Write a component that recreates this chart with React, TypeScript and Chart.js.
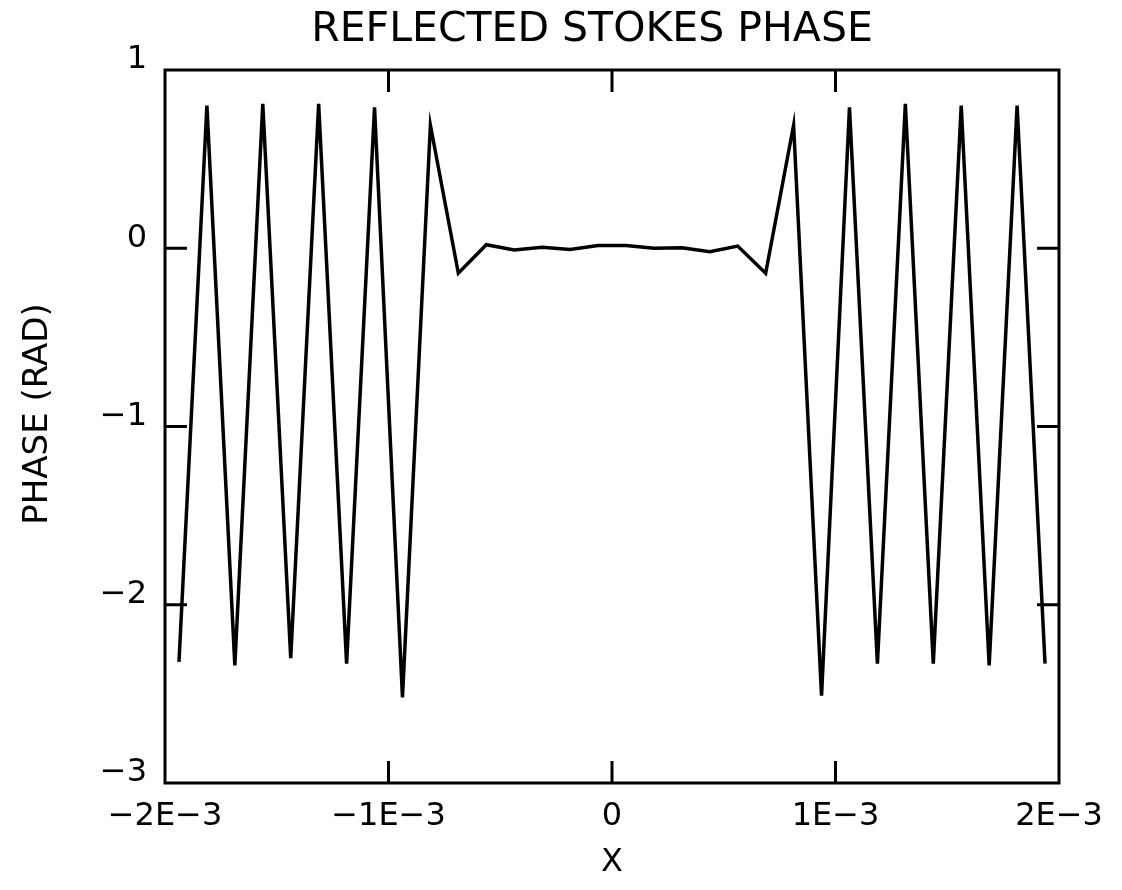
import React, { useEffect, useRef } from "react";
import { Chart, registerables } from "chart.js";

Chart.register(...registerables);

// ---- data (x in metres-like units, phase in rad) ----
const xValues = [
  -1.9375e-3, -1.8125e-3, -1.6875e-3, -1.5625e-3, -1.4375e-3, -1.3125e-3, -1.1875e-3, -1.0625e-3,
  -0.9375e-3, -0.8125e-3, -0.6875e-3, -0.5625e-3, -0.4375e-3, -0.3125e-3, -0.1875e-3, -0.0625e-3,
  0.0625e-3, 0.1875e-3, 0.3125e-3, 0.4375e-3, 0.5625e-3, 0.6875e-3, 0.8125e-3, 0.9375e-3,
  1.0625e-3, 1.1875e-3, 1.3125e-3, 1.4375e-3, 1.5625e-3, 1.6875e-3, 1.8125e-3, 1.9375e-3,
];
const phaseValues = [
  -2.32, 0.8, -2.34, 0.81, -2.3, 0.81, -2.33, 0.79,
  -2.52, 0.69, -0.14, 0.02, -0.01, 0.005, -0.007, 0.015,
  0.015, 0.0, 0.003, -0.02, 0.012, -0.14, 0.69, -2.51,
  0.79, -2.33, 0.81, -2.33, 0.8, -2.34, 0.8, -2.33,
];
const xTickValues = [-2e-3, -1e-3, 0, 1e-3, 2e-3];
const xTickLabels = ["\u22122E\u22123", "\u22121E\u22123", "0", "1E\u22123", "2E\u22123"];
const yTickValues = [-3, -2, -1, 0, 1];
const yTickLabels = ["\u22123", "\u22122", "\u22121", "0", "1"];
const titleText = "REFLECTED STOKES PHASE";
const xTitle = "X";
const yTitle = "PHASE (RAD)";

const FONT = '"DejaVu Sans", "Liberation Sans", sans-serif';

const framePlugin = {
  id: "framePlugin",
  afterDraw(chart: any) {
    const { ctx, chartArea: a, scales } = chart;
    ctx.save();
    ctx.strokeStyle = "#000";
    ctx.lineWidth = 3;
    ctx.lineCap = "square";
    ctx.strokeRect(a.left, a.top, a.right - a.left, a.bottom - a.top);
    const TL = 22;
    const seg = (x1: number, y1: number, x2: number, y2: number) => {
      ctx.beginPath();
      ctx.moveTo(x1, y1);
      ctx.lineTo(x2, y2);
      ctx.stroke();
    };
    ctx.lineCap = "butt";
    yTickValues.slice(1, -1).forEach((v) => {
      const py = scales.y.getPixelForValue(v);
      seg(a.left, py, a.left + TL, py);
      seg(a.right, py, a.right - TL, py);
    });
    xTickValues.slice(1, -1).forEach((v) => {
      const px = scales.x.getPixelForValue(v);
      seg(px, a.bottom, px, a.bottom - TL);
      seg(px, a.top, px, a.top + TL);
    });
    ctx.fillStyle = "#000";
    ctx.font = `41px ${FONT}`;
    ctx.textAlign = "center";
    ctx.textBaseline = "middle";
    ctx.fillText(titleText, 592, 30);
    // y axis title
    ctx.save();
    ctx.translate(38, 414);
    ctx.rotate(-Math.PI / 2);
    ctx.font = `34px ${FONT}`;
    ctx.fillText(yTitle, 0, 0);
    ctx.restore();
    ctx.restore();
  },
};

export default function App() {
  const ref = useRef<HTMLCanvasElement | null>(null);
  useEffect(() => {
    document.body.style.margin = "0";
    const canvas = ref.current;
    if (!canvas) return;
    const chart = new Chart(canvas, {
      type: "line",
      data: {
        datasets: [
          {
            data: xValues.map((x, i) => ({ x, y: phaseValues[i] })),
            borderColor: "#000",
            borderWidth: 3.5,
            pointRadius: 0,
            tension: 0,
            fill: false,
          },
        ],
      },
      options: {
        responsive: false,
        animation: false,
        layout: { padding: { top: 70, right: 63, left: 0, bottom: 0 } },
        plugins: { legend: { display: false }, tooltip: { enabled: false }, title: { display: false } },
        scales: {
          x: {
            type: "linear",
            min: -2e-3,
            max: 2e-3,
            afterBuildTicks: (s: any) => {
              s.ticks = xTickValues.map((v) => ({ value: v }));
            },
            afterFit: (s: any) => {
              s.height = 107;
            },
            grid: { display: false, drawTicks: false },
            border: { display: false },
            ticks: {
              color: "#000",
              font: { family: FONT, size: 32 },
              padding: 14,
              maxRotation: 0,
              autoSkip: false,
              callback: (_v: any, i: number) => xTickLabels[i],
            },
            title: {
              display: true,
              text: xTitle,
              color: "#000",
              font: { family: FONT, size: 32 },
              padding: { top: 0, bottom: 8 },
            },
          },
          y: {
            type: "linear",
            min: -3,
            max: 1,
            afterBuildTicks: (s: any) => {
              s.ticks = yTickValues.map((v) => ({ value: v }));
            },
            afterFit: (s: any) => {
              s.width = 165;
            },
            grid: { display: false, drawTicks: false },
            border: { display: false },
            ticks: {
              color: "#000",
              font: { family: FONT, size: 32 },
              padding: 18,
              labelOffset: -10,
              autoSkip: false,
              callback: (_v: any, i: number) => yTickLabels[i],
            },
            title: { display: false },
          },
        },
      },
      plugins: [framePlugin],
    });
    return () => chart.destroy();
  }, []);
  return (
    <div style={{ width: 1122, height: 890, background: "#fff" }}>
      <canvas ref={ref} width={1122} height={890} />
    </div>
  );
}
